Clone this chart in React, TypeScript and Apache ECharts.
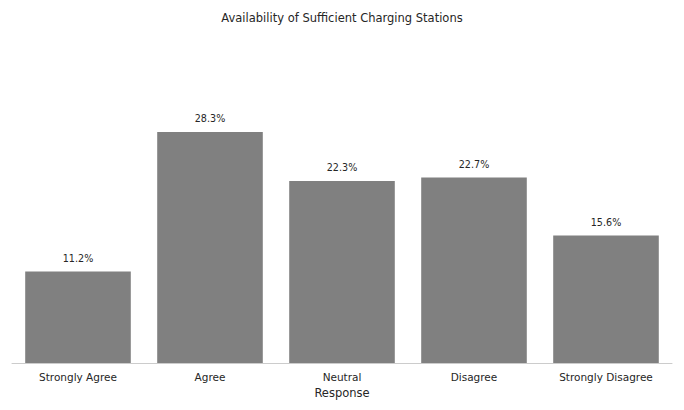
import React, { useEffect, useRef } from "react";
import * as echarts from "echarts";

const categories = ["Strongly Agree", "Agree", "Neutral", "Disagree", "Strongly Disagree"];
const shares = [11.2, 28.3, 22.3, 22.7, 15.6];

const font = "DejaVu Sans, sans-serif";

const App: React.FC = () => {
  const chartRef = useRef<HTMLDivElement>(null);

  useEffect(() => {
    if (!chartRef.current) return;
    const chart = echarts.init(chartRef.current, undefined, { renderer: "svg" });

    const option: echarts.EChartsOption = {
      animation: false,
      backgroundColor: "#ffffff",
      title: {
        text: "Availability of Sufficient Charging Stations",
        left: "center",
        top: 7,
        textStyle: {
          fontFamily: font,
          fontSize: 11.5,
          fontWeight: "normal",
          color: "#262626",
        },
      },
      grid: { left: 12, right: 12, top: 118, bottom: 47 },
      xAxis: {
        type: "category",
        data: categories,
        name: "Response",
        nameLocation: "middle",
        nameGap: 24,
        nameTextStyle: { fontFamily: font, fontSize: 11.5, color: "#262626" },
        axisTick: { show: false },
        axisLine: { lineStyle: { color: "#cccccc", width: 1 } },
        axisLabel: {
          interval: 0,
          margin: 8,
          fontFamily: font,
          fontSize: 10.5,
          color: "#262626",
        },
      },
      yAxis: {
        type: "value",
        min: 0,
        max: 30,
        show: false,
        splitLine: { show: false },
      },
      series: [
        {
          type: "bar",
          data: shares,
          barCategoryGap: "20%",
          itemStyle: { color: "#808080" },
          label: {
            show: true,
            position: "top",
            distance: 8,
            formatter: (p: any) => `${p.value}%`,
            fontFamily: font,
            fontSize: 9.6,
            color: "#262626",
          },
        },
      ],
    };

    chart.setOption(option);
    return () => {
      chart.dispose();
    };
  }, []);

  return (
    <div
      ref={chartRef}
      style={{ position: "fixed", left: 0, top: 0, width: 684, height: 410 }}
    />
  );
};

export default App;
